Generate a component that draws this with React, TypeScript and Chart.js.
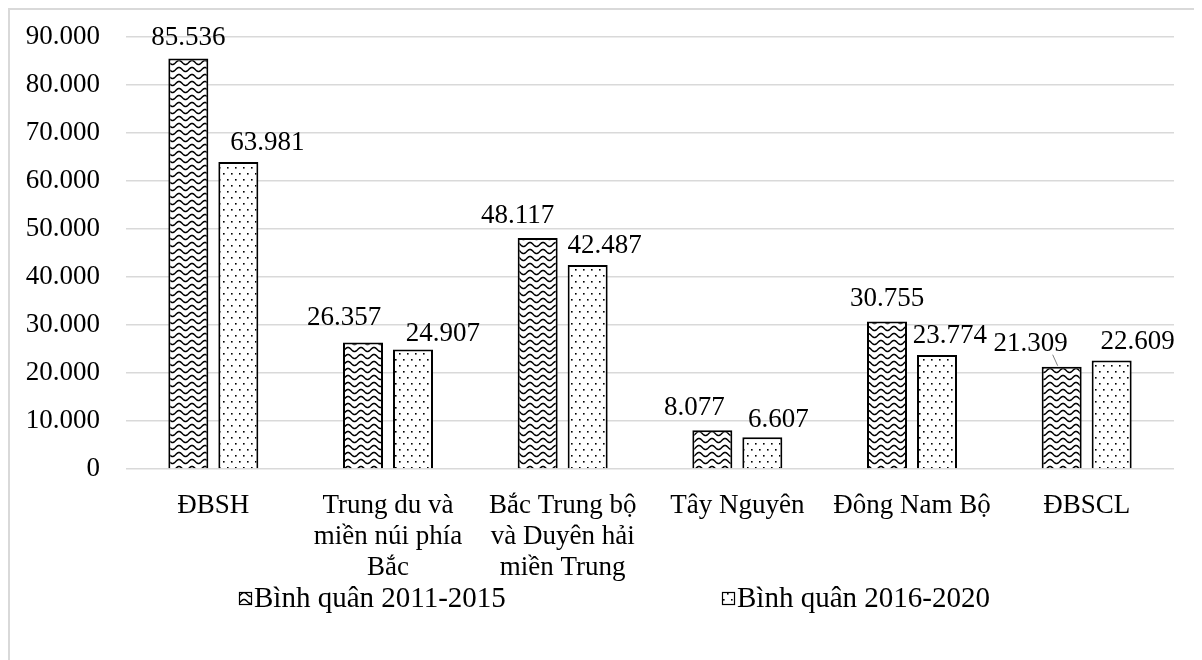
import React, { useEffect, useRef } from "react";
import { Chart, registerables } from "chart.js";

Chart.register(...registerables);

const categories: string[][] = [
  ["ĐBSH"],
  ["Trung du và", "miền núi phía", "Bắc"],
  ["Bắc Trung bộ", "và Duyên hải", "miền Trung"],
  ["Tây Nguyên"],
  ["Đông Nam Bộ"],
  ["ĐBSCL"],
];
const series1Name = "Bình quân 2011-2015";
const series2Name = "Bình quân 2016-2020";
const series1 = [85536, 26357, 48117, 8077, 30755, 21309];
const series2 = [63981, 24907, 42487, 6607, 23774, 22609];
const yMin = 0;
const yMax = 90000;
const yStep = 10000;

// label placement offsets (dx from bar centre, dy = text baseline above bar top)
const labelOffsets1: number[][] = [[0, 13], [-19, 17], [-20, 15], [-18, 15], [0, 15], [-31, 16]];
const labelOffsets2: number[][] = [[29, 12], [30, 8], [17, 12], [16, 10], [13, 12], [26, 11]];

const FONT = '"Liberation Serif", "Times New Roman", serif';
const FS = 27;
const LEGEND_FS = 29;

const fmt = (n: number) => String(n).replace(/\B(?=(\d{3})+(?!\d))/g, ".");

function wavePattern(ctx: CanvasRenderingContext2D): CanvasPattern | string {
  const c = document.createElement("canvas");
  c.width = 13;
  c.height = 7;
  const g = c.getContext("2d")!;
  g.fillStyle = "#fff";
  g.fillRect(0, 0, 13, 7);
  g.strokeStyle = "#000";
  g.lineWidth = 1.5;
  g.beginPath();
  for (let x = -1; x <= 14; x += 0.5) {
    const y = 3.5 - 2 * Math.cos((2 * Math.PI * x) / 13);
    if (x === -1) g.moveTo(x, y);
    else g.lineTo(x, y);
  }
  g.stroke();
  return ctx.createPattern(c, "repeat") || "#888";
}

function dotPattern(ctx: CanvasRenderingContext2D): CanvasPattern | string {
  const c = document.createElement("canvas");
  c.width = 8;
  c.height = 12;
  const g = c.getContext("2d")!;
  g.fillStyle = "#fff";
  g.fillRect(0, 0, 8, 12);
  g.fillStyle = "#000";
  g.fillRect(1, 1, 1.6, 1.6);
  g.fillRect(5, 7, 1.6, 1.6);
  return ctx.createPattern(c, "repeat") || "#ccc";
}

export default function App() {
  const ref = useRef<HTMLCanvasElement | null>(null);

  useEffect(() => {
    const canvas = ref.current;
    if (!canvas) return;
    const ctx = canvas.getContext("2d")!;
    const p1 = wavePattern(ctx);
    const p2 = dotPattern(ctx);

    const labelPlugin = {
      id: "valueLabels",
      afterDatasetsDraw(chart: any) {
        const c = chart.ctx as CanvasRenderingContext2D;
        c.save();
        c.font = `${FS}px ${FONT}`;
        c.fillStyle = "#000";
        c.textAlign = "center";
        c.textBaseline = "alphabetic";
        const offs = [labelOffsets1, labelOffsets2];
        chart.data.datasets.forEach((ds: any, di: number) => {
          const meta = chart.getDatasetMeta(di);
          meta.data.forEach((bar: any, i: number) => {
            const [dx, dy] = offs[di][i];
            const x = bar.x + dx;
            const y = bar.y - dy;
            c.fillText(fmt(ds.data[i]), x, y);
            if (di === 0 && i === ds.data.length - 1) {
              c.strokeStyle = "#7f7f7f";
              c.lineWidth = 1;
              c.beginPath();
              c.moveTo(x + 22, y + 4);
              c.lineTo(bar.x - 4, bar.y - 1);
              c.stroke();
            }
          });
        });
        c.restore();
      },
    };

    const legendPlugin = {
      id: "customLegend",
      afterDraw(chart: any) {
        const c = chart.ctx as CanvasRenderingContext2D;
        c.save();
        c.font = `${LEGEND_FS}px ${FONT}`;
        c.textAlign = "left";
        c.textBaseline = "middle";
        const cy = 588;
        const items = [
          { x: 229, pat: p1, text: series1Name },
          { x: 712, pat: p2, text: series2Name },
        ];
        items.forEach((it) => {
          c.fillStyle = it.pat as any;
          c.fillRect(it.x, cy - 6, 13, 13);
          c.strokeStyle = "#000";
          c.lineWidth = 1.2;
          c.strokeRect(it.x + 0.5, cy - 5.5, 12, 12);
          c.fillStyle = "#000";
          c.fillText(it.text, it.x + 15, cy + 1);
        });
        c.restore();
      },
    };

    const chart = new Chart(canvas, {
      type: "bar",
      data: {
        labels: categories as any,
        datasets: [
          {
            label: series1Name,
            data: series1,
            backgroundColor: p1 as any,
            borderColor: "#000",
            borderWidth: 2,
            categoryPercentage: 0.5725,
            barPercentage: 0.8,
          },
          {
            label: series2Name,
            data: series2,
            backgroundColor: p2 as any,
            borderColor: "#000",
            borderWidth: 2,
            categoryPercentage: 0.5725,
            barPercentage: 0.8,
          },
        ],
      },
      options: {
        animation: false,
        responsive: true,
        maintainAspectRatio: false,
        layout: { padding: { left: 0, right: 28, top: 27, bottom: 71 } },
        plugins: {
          legend: { display: false },
          tooltip: { enabled: false },
          title: { display: false },
        },
        scales: {
          x: {
            grid: { display: false, drawTicks: false },
            border: { display: false },
            ticks: {
              color: "#000",
              font: { family: FONT, size: FS, lineHeight: 1.15 },
              padding: 21,
              maxRotation: 0,
              autoSkip: false,
            },
            afterFit: (s: any) => {
              s.height = 120;
            },
          },
          y: {
            min: yMin,
            max: yMax,
            grid: { color: "#d9d9d9", lineWidth: 1.5, drawTicks: false },
            border: { display: false },
            ticks: {
              stepSize: yStep,
              color: "#000",
              font: { family: FONT, size: FS },
              padding: 26,
              callback: (v: any) => fmt(Number(v)),
            },
            afterFit: (s: any) => {
              s.width = 116;
              s.paddingTop = 0;
              s.paddingBottom = 0;
            },
          },
        },
      },
      plugins: [labelPlugin, legendPlugin],
    });
    return () => chart.destroy();
  }, []);

  return (
    <div
      style={{
        width: 1194,
        height: 652,
        boxSizing: "border-box",
        borderTop: "2px solid #d9d9d9",
        borderLeft: "2px solid #d9d9d9",
        background: "#fff",
      }}
    >
      <div style={{ position: "relative", width: "100%", height: "100%" }}>
        <canvas ref={ref} />
      </div>
    </div>
  );
}
